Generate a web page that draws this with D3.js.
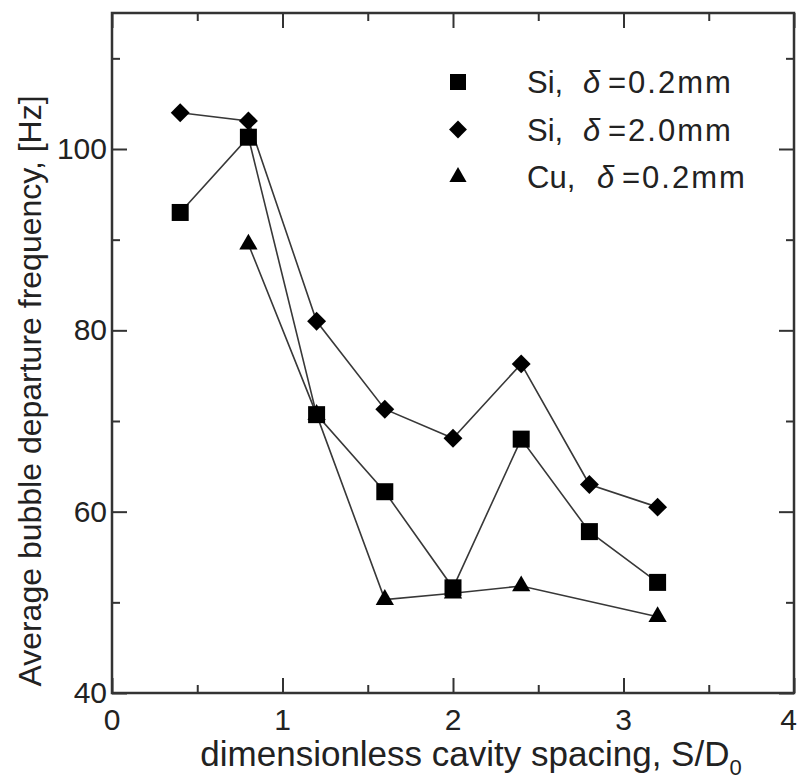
<!DOCTYPE html>
<html>
<head>
<meta charset="utf-8">
<script src="https://cdn.jsdelivr.net/npm/d3@7"></script>
<style>
  body { margin: 0; background: #fff; }
  svg { font-family: "Liberation Sans", Arial, sans-serif; }
</style>
</head>
<body>
<div id="chart"></div>
<script>
const W = 799;
const H = 780;
const margin = { top: 13, right: 5, bottom: 87, left: 112 };
const w = W - margin.left - margin.right;
const h = H - margin.top - margin.bottom;

// data
const siThinX = [0.4, 0.8, 1.2, 1.6, 2.0, 2.4, 2.8, 3.2];
const siThinY = [93.0, 101.3, 70.7, 62.2, 51.6, 68.0, 57.8, 52.2];
const siThickX = [0.4, 0.8, 1.2, 1.6, 2.0, 2.4, 2.8, 3.2];
const siThickY = [104.0, 103.1, 81.0, 71.3, 68.1, 76.3, 63.0, 60.5];
const cuX = [0.8, 1.2, 1.6, 2.0, 2.4, 3.2];
const cuY = [89.5, 70.7, 50.3, 51.0, 51.8, 48.4];

const xMajor = [0, 1, 2, 3, 4];
const xMinor = [0.5, 1.5, 2.5, 3.5];
const yMajor = [40, 60, 80, 100];
const yMinor = [50, 70, 90, 110];

const legendNames = ["Si,", "Si,", "Cu,"];
const legendValues = ["=0.2mm", "=2.0mm", "=0.2mm"];

const series = [
    { name: "cu", xs: cuX, ys: cuY, shape: "triangle" },
    { name: "siThick", xs: siThickX, ys: siThickY, shape: "diamond" },
    { name: "siThin", xs: siThinX, ys: siThinY, shape: "square" }
];

const x = d3.scaleLinear().domain([0, 4]).range([0, w]);
const y = d3.scaleLinear().domain([40, 115]).range([h, 0]);

const svg = d3.select("#chart").append("svg")
    .attr("width", W).attr("height", H);
const g = svg.append("g").attr("transform", `translate(${margin.left},${margin.top})`);

function marker(sel, shape, s) {
    if (shape == "square") {
        sel.attr("d", d3.symbol(d3.symbolSquare, s * s));
    } else if (shape == "diamond") {
        sel.attr("d", d3.symbol(d3.symbolSquare, s * s * 0.62)).attr("transform", function() {
            return d3.select(this).attr("transform") + " rotate(45)";
        });
    } else {
        sel.attr("d", d3.symbol(d3.symbolTriangle, s * s * 0.5));
    }
}

// ticks, inward on all four sides
const axes = [
    { ax: d3.axisBottom(x), t: `translate(0,${h})`, major: xMajor, minor: xMinor },
    { ax: d3.axisTop(x), t: "translate(0,0)", major: xMajor, minor: xMinor },
    { ax: d3.axisLeft(y), t: "translate(0,0)", major: yMajor, minor: yMinor },
    { ax: d3.axisRight(y), t: `translate(${w},0)`, major: yMajor, minor: yMinor }
];
axes.forEach(a => {
    g.append("g").attr("transform", a.t)
        .call(a.ax.tickValues(a.major).tickSizeInner(-15).tickSizeOuter(0).tickFormat(""))
        .call(s => s.select(".domain").remove());
    g.append("g").attr("transform", a.t)
        .call(a.ax.tickValues(a.minor).tickSizeInner(-8).tickSizeOuter(0).tickFormat(""))
        .call(s => s.select(".domain").remove());
});
g.selectAll(".tick line").attr("stroke", "#333").attr("stroke-width", 2);

g.append("rect")
    .attr("width", w).attr("height", h)
    .attr("fill", "none").attr("stroke", "#333").attr("stroke-width", 2.5);

// tick labels (last one pulled in so it stays inside the page)
g.selectAll(".xlab").data(xMajor).enter().append("text")
    .attr("class", "xlab")
    .attr("x", (d, i) => i == xMajor.length - 1 ? x(d) + 3 : x(d)).attr("y", h + 37)
    .attr("text-anchor", (d, i) => i == xMajor.length - 1 ? "end" : "middle")
    .style("font-size", "30px").attr("fill", "#222")
    .text(d => d);
g.selectAll(".ylab").data(yMajor).enter().append("text")
    .attr("class", "ylab")
    .attr("x", -5).attr("y", d => y(d) + 10)
    .attr("text-anchor", "end")
    .style("font-size", "30px").attr("fill", "#222")
    .text(d => d);

// axis titles
const xt = svg.append("text")
    .attr("x", margin.left + w / 2 + 18).attr("y", 766)
    .attr("text-anchor", "middle")
    .style("font-size", "35px").attr("fill", "#222");
xt.append("tspan").text("dimensionless cavity spacing, S/D");
xt.append("tspan").attr("dy", 9).style("font-size", "22px").text("0");

svg.append("text")
    .attr("transform", `translate(41,${391}) rotate(-90)`)
    .attr("text-anchor", "middle")
    .style("font-size", "32px").attr("fill", "#222")
    .text("Average bubble departure frequency, [Hz]");

// lines
const line = d3.line().x(d => x(d[0])).y(d => y(d[1]));
series.forEach(s => {
    const pts = s.xs.map((v, i) => [v, s.ys[i]]);
    g.append("path").datum(pts)
        .attr("d", line)
        .attr("fill", "none").attr("stroke", "#383838").attr("stroke-width", 1.6);
});

// markers
series.forEach(s => {
    const pts = s.xs.map((v, i) => [v, s.ys[i]]);
    g.selectAll(".m-" + s.name).data(pts).enter().append("path")
        .attr("class", "m-" + s.name)
        .attr("transform", d => `translate(${x(d[0])},${y(d[1])})`)
        .attr("fill", "#000")
        .call(sel => marker(sel, s.shape, 17));
});

// legend
const legendShapes = ["square", "diamond", "triangle"];
const leg = svg.append("g").attr("transform", "translate(458,82)");
legendShapes.forEach((shape, i) => {
    const row = leg.append("g").attr("transform", `translate(0,${i * 47.5})`);
    row.append("path").attr("transform", "translate(0,0)").attr("fill", "#000")
        .call(sel => marker(sel, shape, 16));
    const t = row.append("text").attr("x", 69).attr("y", 11)
        .style("font-size", "31px").attr("fill", "#222");
    t.append("tspan").text(legendNames[i]);
    t.append("tspan").attr("x", 125 + (i == 2 ? 14 : 0)).style("font-style", "italic").text("δ");
    t.append("tspan").attr("x", 150 + (i == 2 ? 14 : 0)).style("letter-spacing", "2px").text(legendValues[i]);
});
</script>
</body>
</html>
